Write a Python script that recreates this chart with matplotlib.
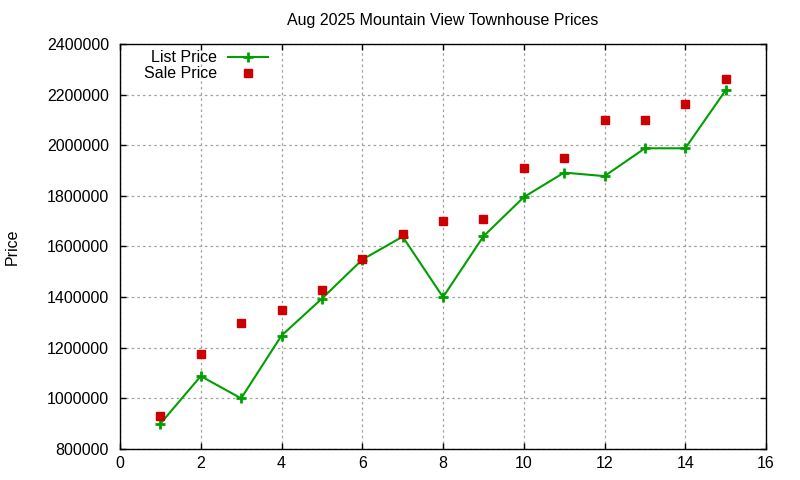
import numpy as np
import matplotlib.pyplot as plt

plt.rcParams['font.family'] = ['Liberation Sans', 'DejaVu Sans']

idx = [1, 2, 3, 4, 5, 6, 7, 8, 9, 10, 11, 12, 13, 14, 15]
list_price = [900000, 1088000, 1000000, 1248000, 1394000, 1548000, 1639000,
              1400000, 1640000, 1795000, 1892000, 1878000, 1988000, 1988000, 2217000]
sale_price = [930000, 1176000, 1299000, 1350000, 1430000, 1549000, 1648000,
              1700000, 1710000, 1910000, 1950000, 2100000, 2100000, 2162000, 2261000]

xticks = [0, 2, 4, 6, 8, 10, 12, 14, 16]
yticks = [800000, 1000000, 1200000, 1400000, 1600000, 1800000, 2000000, 2200000, 2400000]

fig = plt.figure(figsize=(8, 4.8), dpi=100)
ax = fig.add_axes([120 / 800, 1 - 449 / 480, 646 / 800, 405 / 480])

ax.plot(idx, list_price, color='#00a000', lw=1.5, marker='+', ms=7.5, mew=2,
        label='List Price')
ax.plot(idx, sale_price, color='#cc0000', ls='none', marker='s', ms=6,
        label='Sale Price')

ax.set_xlim(0, 16)
ax.set_ylim(800000, 2400000)
ax.set_xticks(xticks)
ax.set_yticks(yticks)
ax.set_yticklabels([str(v) for v in yticks])
ax.tick_params(direction='in', length=4, width=1, top=True, right=True,
               labelsize=11.5, colors='black')
ax.tick_params(axis='y', pad=8)
ax.tick_params(axis='x', pad=5)
ax.grid(True, color='#a0a0a0', ls=(0, (2, 2.5)), lw=0.9)
for s in ax.spines.values():
    s.set_linewidth(1)

ax.set_title('Aug 2025 Mountain View Townhouse Prices', fontsize=11.5, pad=14)
fig.text(12 / 800, 1 - 247 / 480, 'Price', rotation=90, fontsize=11.5,
         ha='center', va='center')

leg = ax.legend(loc='upper left', bbox_to_anchor=(0.02, 1.012), frameon=False,
                markerfirst=False, fontsize=11.5, handlelength=2.5,
                labelspacing=0.05, borderaxespad=0.3, handletextpad=0.7)
for t in leg.get_texts():
    t.set_ha('right')
leg._legend_box.align = 'right'

fig.savefig('out.png', dpi=100)
